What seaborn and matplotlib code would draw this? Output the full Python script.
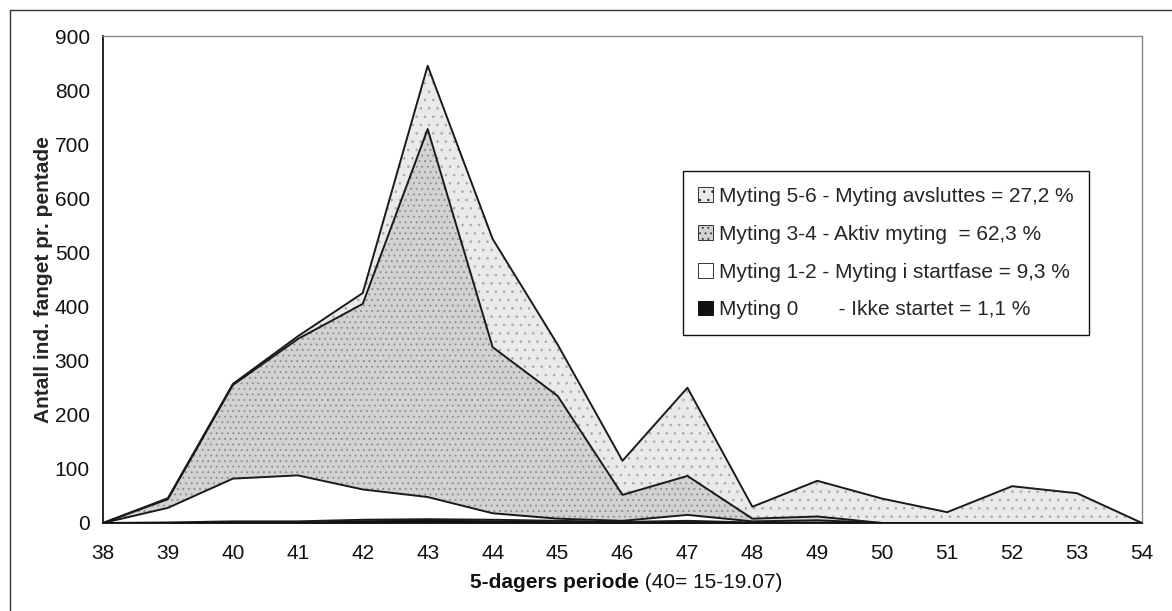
import numpy as np
import pandas as pd
import matplotlib
matplotlib.use("Agg")
import matplotlib.pyplot as plt
import seaborn as sns
from matplotlib.lines import Line2D
from matplotlib.patches import Patch

# ---- data ----
periods = [38, 39, 40, 41, 42, 43, 44, 45, 46, 47, 48, 49, 50, 51, 52, 53, 54]
myting_0 = [0, 1, 3, 3, 6, 7, 6, 4, 2, 4, 1, 1, 0, 0, 0, 0, 0]
myting_12 = [0, 27, 79, 85, 56, 41, 12, 4, 2, 11, 2, 4, 0, 0, 0, 0, 0]
myting_34 = [0, 16, 173, 252, 343, 680, 307, 227, 48, 72, 5, 7, 0, 0, 0, 0, 0]
myting_56 = [0, 2, 2, 5, 20, 117, 200, 95, 63, 163, 22, 66, 45, 20, 68, 55, 0]

labels = [
    "Myting 5-6 - Myting avsluttes = 27,2 %",
    "Myting 3-4 - Aktiv myting  = 62,3 %",
    "Myting 1-2 - Myting i startfase = 9,3 %",
    "Myting 0       - Ikke startet = 1,1 %",
]
y_ticks = [0, 100, 200, 300, 400, 500, 600, 700, 800, 900]
x_label_bold = "5-dagers periode"
x_label_rest = " (40= 15-19.07)"
y_label = "Antall ind. fanget pr. pentade"

sns.set_theme(style="white")
plt.rcParams["font.family"] = ["Liberation Sans", "DejaVu Sans"]
plt.rcParams["hatch.linewidth"] = 0.6

FS = 15

df = pd.DataFrame({"period": periods, "m0": myting_0, "m12": myting_12,
                   "m34": myting_34, "m56": myting_56})
df["c0"] = df["m0"]
df["c12"] = df["c0"] + df["m12"]
df["c34"] = df["c12"] + df["m34"]
df["c56"] = df["c34"] + df["m56"]

fig = plt.figure(figsize=(11.72, 6.11), dpi=100)
ax = fig.add_axes([103 / 1172, 1 - 523 / 611, (1142 - 103) / 1172, (523 - 36) / 611])

x = df["period"].values
plt.rcParams["hatch.color"] = "#8a8a8a"
ax.fill_between(x, df["c34"], df["c56"], facecolor="#eaeaea", hatch="..", edgecolor="#a8a8a8", linewidth=0)
ax.fill_between(x, df["c12"], df["c34"], facecolor="#d2d2d2", hatch="...", edgecolor="#8a8a8a", linewidth=0)
ax.fill_between(x, df["c0"], df["c12"], facecolor="white", linewidth=0)
ax.fill_between(x, 0, df["c0"], facecolor="#111111", linewidth=0)

for col in ["c56", "c34", "c12", "c0"]:
    sns.lineplot(data=df, x="period", y=col, ax=ax, color="#1a1a1a", linewidth=1.4)

ax.set_xlim(38, 54)
ax.set_ylim(0, 900)
ax.set_xticks(periods)
ax.set_xticklabels([str(p) for p in periods])
ax.set_yticks(y_ticks)
ax.tick_params(axis="both", labelsize=FS, colors="#111111")
ax.tick_params(axis="y", direction="inout", length=7, width=1, pad=6)
ax.tick_params(axis="x", direction="out", length=7, width=1, pad=8)
ax.set_xlabel("")
ax.set_ylabel(y_label, fontsize=FS, fontweight="bold", labelpad=1)

for s in ["left", "bottom"]:
    ax.spines[s].set_color("#111111")
    ax.spines[s].set_linewidth(1.3)
for s in ["top", "right"]:
    ax.spines[s].set_color("#888888")
    ax.spines[s].set_linewidth(1.0)
    ax.spines[s].set_linestyle((0, (2, 1)))

# x label: bold part + regular part
t1 = fig.text(470 / 1172, 1 - 583 / 611, x_label_bold, fontsize=FS, fontweight="bold",
              ha="left", va="center", color="#111111")
ax.annotate(x_label_rest, xy=(1, 0.5), xycoords=t1, va="center", ha="left",
            fontsize=FS, color="#111111")

handles = [
    Patch(facecolor="#eaeaea", edgecolor="#333333", hatch="..", linewidth=0.7),
    Patch(facecolor="#d2d2d2", edgecolor="#333333", hatch="...", linewidth=0.7),
    Patch(facecolor="white", edgecolor="#333333", linewidth=0.7),
    Patch(facecolor="#111111", edgecolor="#111111", linewidth=0.7),
]
leg = ax.legend(handles, labels, loc="upper left", bbox_to_anchor=(0.558, 0.722),
                fontsize=FS, frameon=True, fancybox=False, edgecolor="#111111",
                framealpha=1, labelspacing=0.9, handlelength=0.7, handleheight=0.7,
                handletextpad=0.3, borderpad=0.75, borderaxespad=0)
leg.get_frame().set_linewidth(1.0)

# outer chart frame (top and left)
fig.add_artist(Line2D([10 / 1172, 1], [1 - 10 / 611, 1 - 10 / 611], transform=fig.transFigure,
                      color="#333333", linewidth=1.0))
fig.add_artist(Line2D([10 / 1172, 10 / 1172], [0, 1 - 10 / 611], transform=fig.transFigure,
                      color="#333333", linewidth=1.0))

fig.savefig("out.png", dpi=100, facecolor="white")
